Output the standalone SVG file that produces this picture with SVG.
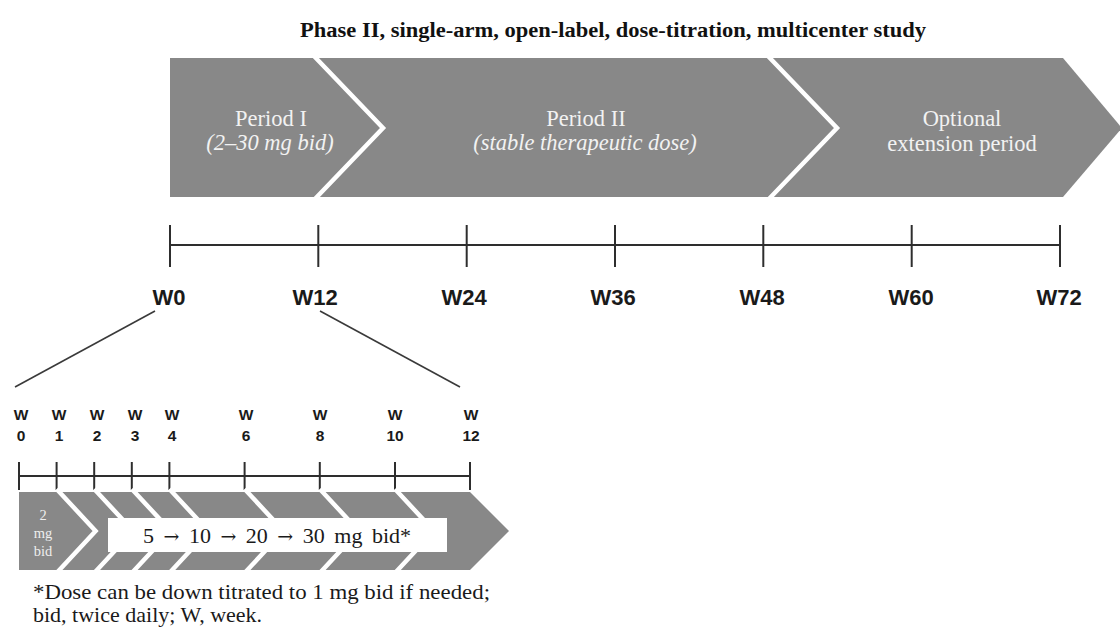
<svg xmlns="http://www.w3.org/2000/svg" width="1120" height="636" viewBox="0 0 1120 636">
  <style>
    .band { fill: #888888; }
    .divider { fill: none; stroke: #ffffff; stroke-width: 4.5; stroke-linejoin: miter; }
    .axis { stroke: #2e2e2e; stroke-width: 2; fill: none; }
    .zoomline { stroke: #3a3a3a; stroke-width: 1.6; fill: none; }
    .title { font-family: "Liberation Serif", "Times New Roman", serif; font-weight: bold; font-size: 20px; fill: #111; }
    .plabel { font-family: "Liberation Serif", "Times New Roman", serif; font-size: 22.5px; fill: #f2f2f2; text-anchor: middle; }
    .pital { font-style: italic; }
    .wk { font-family: "Liberation Sans", Arial, sans-serif; font-weight: bold; font-size: 22px; fill: #1a1a1a; text-anchor: middle; }
    .wks { font-family: "Liberation Sans", Arial, sans-serif; font-weight: bold; font-size: 15.5px; fill: #1a1a1a; text-anchor: middle; }
    .small { font-family: "Liberation Serif", "Times New Roman", serif; font-size: 14.5px; fill: #eeeeee; text-anchor: middle; }
    .dose { font-family: "Liberation Serif", "Times New Roman", serif; font-size: 22px; fill: #1a1a1a; text-anchor: middle; word-spacing: 4px; }
    .arrow { font-family: "DejaVu Serif", "Liberation Serif", serif; font-size: 19px; }
    .note { font-family: "Liberation Serif", "Times New Roman", serif; font-size: 22px; fill: #1a1a1a; }
  </style>

  <text class="title" x="300" y="37" textLength="626" lengthAdjust="spacingAndGlyphs">Phase II, single-arm, open-label, dose-titration, multicenter study</text>

  <!-- study periods band -->
  <g id="period-band">
    <polygon class="band" points="170,58 1063,58 1122,128 1063,197 170,197"/>
    <polyline class="divider" points="313,55 383,128 313,201"/>
    <polyline class="divider" points="767,55 837,128 767,201"/>
  </g>
  <g id="period-1">
    <text class="plabel" x="271" y="126">Period I</text>
    <text class="plabel pital" x="270" y="150">(2–30 mg bid)</text>
  </g>
  <g id="period-2">
    <text class="plabel" x="586" y="126">Period II</text>
    <text class="plabel pital" x="585" y="150">(stable therapeutic dose)</text>
  </g>
  <g id="extension">
    <text class="plabel" x="962" y="126">Optional</text>
    <text class="plabel" x="962" y="151">extension period</text>
  </g>

  <!-- main week axis -->
  <g id="main-axis">
    <line class="axis" x1="170" y1="245" x2="1060" y2="245"/>
    <line class="axis" x1="170" y1="225" x2="170" y2="267"/>
    <line class="axis" x1="318.3" y1="225" x2="318.3" y2="267"/>
    <line class="axis" x1="466.7" y1="225" x2="466.7" y2="267"/>
    <line class="axis" x1="615" y1="225" x2="615" y2="267"/>
    <line class="axis" x1="763.3" y1="225" x2="763.3" y2="267"/>
    <line class="axis" x1="911.7" y1="225" x2="911.7" y2="267"/>
    <line class="axis" x1="1060" y1="225" x2="1060" y2="267"/>
    <text class="wk" x="169" y="305">W0</text>
    <text class="wk" x="315" y="305">W12</text>
    <text class="wk" x="464" y="305">W24</text>
    <text class="wk" x="613" y="305">W36</text>
    <text class="wk" x="762" y="305">W48</text>
    <text class="wk" x="911" y="305">W60</text>
    <text class="wk" x="1059" y="305">W72</text>
  </g>

  <!-- connectors from W0-W12 to the detailed view -->
  <g id="connectors">
    <line class="zoomline" x1="155" y1="311" x2="15" y2="387"/>
    <line class="zoomline" x1="320" y1="311" x2="460" y2="387"/>
  </g>

  <!-- detailed weeks 0-12 axis -->
  <g id="detail-axis">
    <line class="axis" x1="19" y1="476" x2="470" y2="476"/>
    <line class="axis" x1="19" y1="462" x2="19" y2="490"/>
    <line class="axis" x1="56.6" y1="462" x2="56.6" y2="490"/>
    <line class="axis" x1="94.2" y1="462" x2="94.2" y2="490"/>
    <line class="axis" x1="131.8" y1="462" x2="131.8" y2="490"/>
    <line class="axis" x1="169.4" y1="462" x2="169.4" y2="490"/>
    <line class="axis" x1="244.6" y1="462" x2="244.6" y2="490"/>
    <line class="axis" x1="319.8" y1="462" x2="319.8" y2="490"/>
    <line class="axis" x1="395" y1="462" x2="395" y2="490"/>
    <line class="axis" x1="470" y1="462" x2="470" y2="490"/>
    <text class="wks" x="21" y="420">W</text><text class="wks" x="21" y="441">0</text>
    <text class="wks" x="59" y="420">W</text><text class="wks" x="59" y="441">1</text>
    <text class="wks" x="97" y="420">W</text><text class="wks" x="97" y="441">2</text>
    <text class="wks" x="135" y="420">W</text><text class="wks" x="135" y="441">3</text>
    <text class="wks" x="172" y="420">W</text><text class="wks" x="172" y="441">4</text>
    <text class="wks" x="246" y="420">W</text><text class="wks" x="246" y="441">6</text>
    <text class="wks" x="320" y="420">W</text><text class="wks" x="320" y="441">8</text>
    <text class="wks" x="395" y="420">W</text><text class="wks" x="395" y="441">10</text>
    <text class="wks" x="471" y="420">W</text><text class="wks" x="471" y="441">12</text>
  </g>

  <!-- titration band -->
  <g id="titration-band">
    <polygon class="band" points="19,492 470,492 509,531 470,570 19,570"/>
    <polyline class="divider" points="56.6,489 95.6,531 56.6,573"/>
    <polyline class="divider" points="94.2,489 133.2,531 94.2,573"/>
    <polyline class="divider" points="131.8,489 170.8,531 131.8,573"/>
    <polyline class="divider" points="169.4,489 208.4,531 169.4,573"/>
    <polyline class="divider" points="244.6,489 283.6,531 244.6,573"/>
    <polyline class="divider" points="319.8,489 358.8,531 319.8,573"/>
    <polyline class="divider" points="395,489 434,531 395,573"/>
  </g>
  <g id="start-dose">
    <text class="small" x="43" y="520">2</text>
    <text class="small" x="43" y="538">mg</text>
    <text class="small" x="43" y="556">bid</text>
  </g>
  <g id="titration-steps">
    <rect x="108" y="518" width="339" height="34" fill="#ffffff"/>
    <text class="dose" x="277" y="543">5 <tspan class="arrow">→</tspan> 10 <tspan class="arrow">→</tspan> 20 <tspan class="arrow">→</tspan> 30 mg bid*</text>
  </g>

  <text class="note" x="33" y="599" textLength="457" lengthAdjust="spacingAndGlyphs">*Dose can be down titrated to 1 mg bid if needed;</text>
  <text class="note" x="33" y="622">bid, twice daily; W, week.</text>
</svg>
